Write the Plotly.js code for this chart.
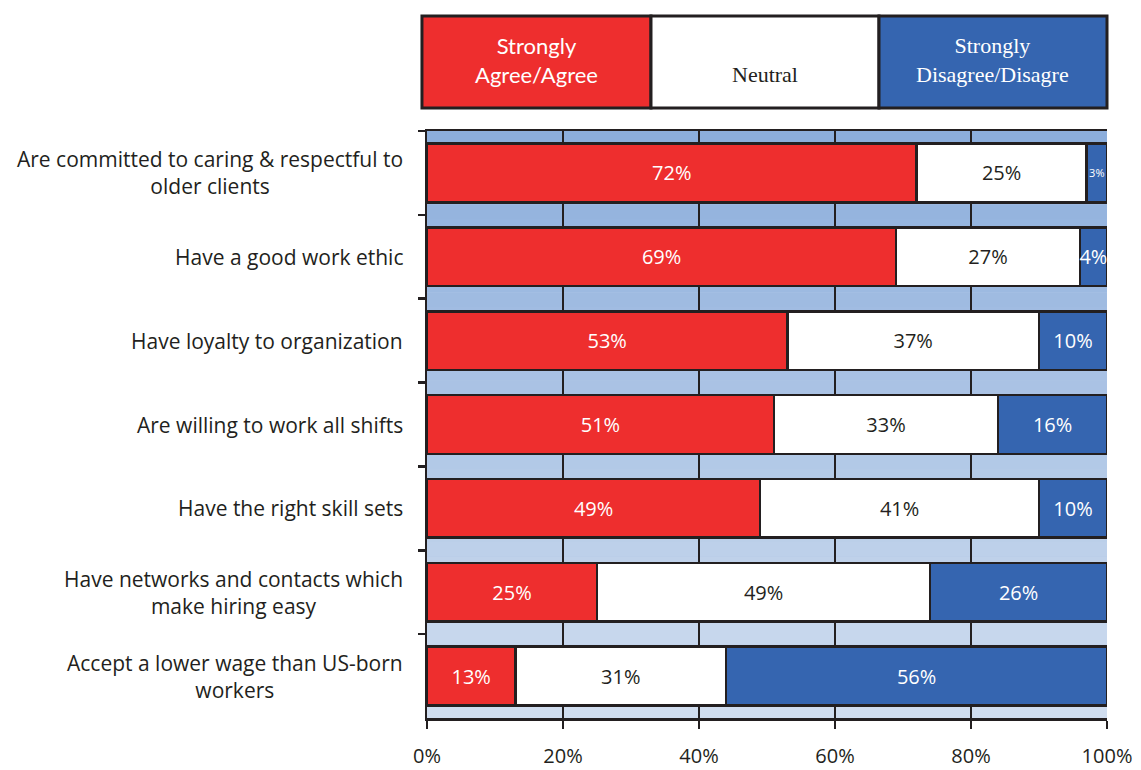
<!DOCTYPE html>
<html>
<head>
<meta charset="utf-8">
<script src="https://cdn.plot.ly/plotly-3.0.1.min.js"></script>
<style>html,body{margin:0;padding:0;background:#fff;}#chart{width:1141px;height:770px;}</style>
</head>
<body>
<div id="chart"></div>
<script>
var categories = [
  "Are committed to caring & respectful to<br>older clients",
  "Have a good work ethic",
  "Have loyalty to organization",
  "Are willing to work all shifts",
  "Have the right skill sets",
  "Have networks and contacts which<br>make hiring easy",
  "Accept a lower wage than US-born<br>workers"
];
var agree = [72, 69, 53, 51, 49, 25, 13];
var neutral = [25, 27, 37, 33, 41, 49, 31];
var disagree = [3, 4, 10, 16, 10, 26, 56];
var seriesNames = ["Strongly<br>Agree/Agree", "Neutral", "Strongly<br>Disagree/Disagre"];
var xTickVals = [0, 20, 40, 60, 80, 100];
var xTickText = ["0%", "20%", "40%", "60%", "80%", "100%"];

var RED = "#EE2E2E", BLUE = "#3565B0", EDGE = "#231F20";
var SANS = "'Open Sans', Lato, sans-serif";
var LSANS = "Lato, 'Open Sans', sans-serif";
var SERIF = "'Liberation Serif', 'DejaVu Serif', serif";

function pct(a){ return a.map(function(v){ return v + "%"; }); }
function sizes(a){ return a.map(function(v){ return v < 4 ? 11 : 20; }); }

function barTrace(vals, name, color, txtColor){
  return {
    type: "bar", orientation: "h", name: name,
    x: vals, y: categories,
    width: 0.7,
    marker: {color: color, line: {color: EDGE, width: 2.5}},
    text: pct(vals), textposition: "inside", insidetextanchor: "middle",
    textangle: 0, constraintext: "none",
    textfont: {family: SANS, size: sizes(vals), color: txtColor},
    hoverinfo: "skip", showlegend: false
  };
}

var data = [
  barTrace(agree, seriesNames[0], RED, "#FFFFFF"),
  barTrace(neutral, seriesNames[1], "#FFFFFF", "#231F20"),
  barTrace(disagree, seriesNames[2], BLUE, "#FFFFFF")
];

// background gradient (decoration)
var shapes = [];
var NSTEP = 40, gradTop = [140,174,220], gradBot = [208,221,239];
for (var i = 0; i < NSTEP; i++) {
  var t = i / (NSTEP - 1);
  var c = gradTop.map(function(v, k){ return Math.round(v + (gradBot[k] - v) * t); });
  shapes.push({type: "rect", xref: "x domain", yref: "y domain", layer: "below",
    x0: 0, x1: 1, y0: 1 - (i + 1) / NSTEP, y1: 1 - i / NSTEP,
    fillcolor: "rgb(" + c.join(",") + ")", line: {width: 0}});
}
// legend boxes
var lx = [-0.0074, 0.3294, 0.6647, 1.0];
var lcol = [RED, "#FFFFFF", BLUE];
for (var j = 0; j < 3; j++) {
  shapes.push({type: "rect", xref: "paper", yref: "paper", x0: lx[j], x1: lx[j+1],
    y0: 1.0392, y1: 1.1959, fillcolor: lcol[j], line: {color: EDGE, width: 3}});
}

var annotations = categories.map(function(c){
  return {xref: "paper", yref: "y", x: -0.032, y: c, text: c, showarrow: false,
    xanchor: "right", yanchor: "middle", align: "center",
    font: {family: SANS, size: 21, color: "#231F20"}};
});
annotations.push({xref: "paper", yref: "paper", x: (lx[0]+lx[1])/2, y: 1.121, text: seriesNames[0],
  showarrow: false, align: "center", xanchor: "center", yanchor: "middle",
  font: {family: LSANS, size: 22, color: "#FFFFFF"}});
annotations.push({xref: "paper", yref: "paper", x: (lx[1]+lx[2])/2, y: 1.097, text: seriesNames[1],
  showarrow: false, align: "center", xanchor: "center", yanchor: "middle",
  font: {family: SERIF, size: 22, color: "#231F20"}});
annotations.push({xref: "paper", yref: "paper", x: (lx[2]+lx[3])/2, y: 1.121, text: seriesNames[2],
  showarrow: false, align: "center", xanchor: "center", yanchor: "middle",
  font: {family: SERIF, size: 22, color: "#FFFFFF"}});

var layout = {
  width: 1141, height: 770,
  margin: {l: 427, r: 34, t: 131, b: 52},
  paper_bgcolor: "#FFFFFF", plot_bgcolor: "#B0C6E6",
  barmode: "stack",
  showlegend: false,
  xaxis: {
    range: [0, 100], tickvals: xTickVals, ticktext: xTickText,
    showgrid: true, gridcolor: EDGE, gridwidth: 2.5,
    zeroline: false, showline: true, linecolor: EDGE, linewidth: 2.5, mirror: true,
    ticks: "outside", ticklen: 8, tickwidth: 2.5, tickcolor: EDGE,
    ticklabelstandoff: 10,
    tickfont: {family: SANS, size: 20, color: "#231F20"}
  },
  yaxis: {
    type: "category", categoryorder: "array", categoryarray: categories,
    range: [6.5, -0.5],
    showticklabels: false, showgrid: false, zeroline: false,
    showline: true, linecolor: EDGE, linewidth: 2.5,
    ticks: "outside", tickson: "boundaries", ticklen: 7, tickwidth: 2.5, tickcolor: EDGE
  },
  shapes: shapes,
  annotations: annotations
};

Plotly.newPlot("chart", data, layout, {staticPlot: true, displayModeBar: false});
</script>
</body>
</html>
